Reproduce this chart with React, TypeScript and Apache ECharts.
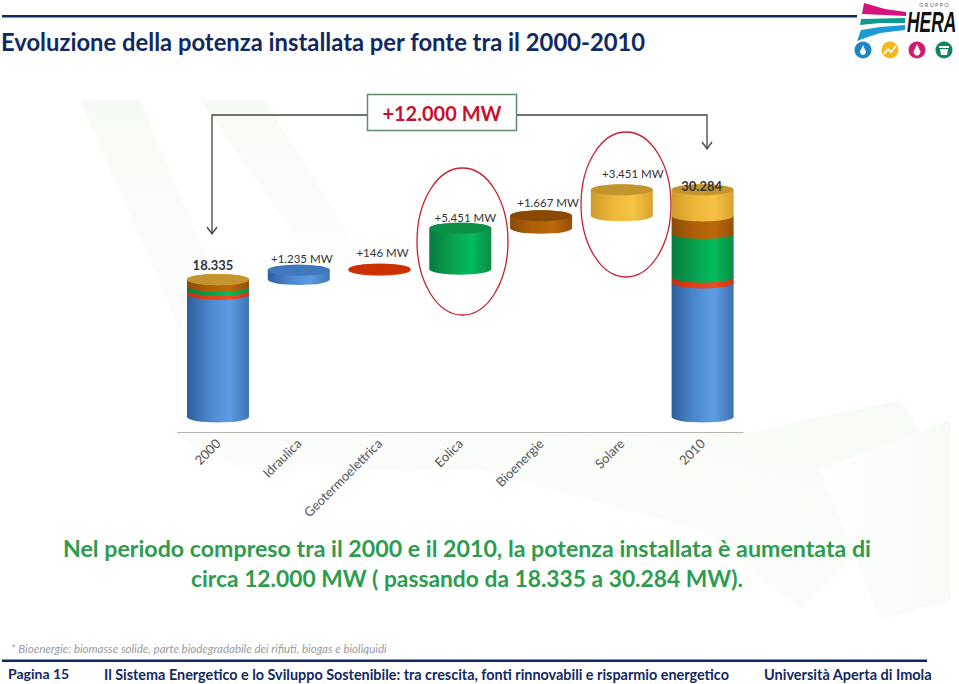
import React, { useEffect, useRef } from "react";
import * as echarts from "echarts";

const categories = ["2000", "Idraulica", "Geotermoelettrica", "Eolica", "Bioenergie", "Solare", "2010"];
const stack2000 = [16345, 530, 530, 910, 20];
const stack2010 = [17875, 773, 5814, 2351, 3471];
const stackColours = [0, 1, 2, 3, 4];
const stepBases = [18335, 19570, 19716, 25167, 26834];
const stepValues = [1235, 146, 5451, 1667, 3451];
const stepColours = [0, 1, 2, 3, 4];
const valueLabels = ["18.335", "+1.235 MW", "+146 MW", "+5.451 MW", "+1.667 MW", "+3.451 MW", "30.284"];
const labelTops = [18335, 19570, 19716, 25167, 26834, 30285, 30284];

const labelDx = [-5, 3, 3, 5, 7, 11, -1];
const labelDy = [-14.5, -12, -17, -11, -13, -16, -4];
const FONT = "Lato, Carlito, sans-serif";

type Shade = { e: string; m: string; l: string; r: string; top: string };
const shades: Shade[] = [
  { e: "#2f5e9c", m: "#4a86cc", l: "#5e9ce2", r: "#3f74b4", top: "#3f78bb" },
  { e: "#c22f10", m: "#e2401a", l: "#ee4a20", r: "#d03512", top: "#cc3000" },
  { e: "#0a7a3f", m: "#07a04f", l: "#05bb5e", r: "#0a8c48", top: "#0e8f47" },
  { e: "#8a4a06", m: "#ae6008", l: "#bb6a0c", r: "#974f06", top: "#8a4804" },
  { e: "#cf9a2a", m: "#eeb638", l: "#f6c344", r: "#d9a22e", top: "#c4952f" },
];

function bodyGradient(s: Shade) {
  return new echarts.graphic.LinearGradient(0, 0, 1, 0, [
    { offset: 0, color: s.e },
    { offset: 0.35, color: s.m },
    { offset: 0.68, color: s.l },
    { offset: 1, color: s.r },
  ]);
}

const rows: number[][] = [];
function pushStack(cat: number, values: number[]) {
  let start = 0;
  values.forEach((v, i) => {
    rows.push([cat, start, start + v, stackColours[i], i === values.length - 1 ? 1 : 0]);
    start += v;
  });
}
pushStack(0, stack2000);
stepValues.forEach((v, i) => rows.push([i + 1, stepBases[i], stepBases[i] + v, stepColours[i], 1]));
pushStack(6, stack2010);

const RY = 5.5;

function renderCylinder(_p: any, api: any) {
  const cat = api.value(0);
  const a = api.coord([cat, api.value(1)]);
  const b = api.coord([cat, api.value(2)]);
  const rx = (api.size([1, 0])[0] * 0.7675) / 2;
  const s = shades[api.value(3)];
  const xl = a[0] - rx;
  const xr = a[0] + rx;
  const children: any[] = [
    {
      type: "path",
      shape: {
        pathData: `M${xl} ${b[1]}L${xl} ${a[1]}A${rx} ${RY} 0 0 0 ${xr} ${a[1]}L${xr} ${b[1]}A${rx} ${RY} 0 0 0 ${xl} ${b[1]}Z`,
      },
      style: { fill: bodyGradient(s) },
    },
  ];
  if (api.value(4)) {
    children.push({
      type: "ellipse",
      shape: { cx: a[0], cy: b[1], rx, ry: RY },
      style: { fill: s.top },
    });
  }
  return { type: "group", children };
}

function renderValueLabel(p: any, api: any) {
  const c = api.coord([api.value(0), api.value(1)]);
  const i = p.dataIndex;
  const strong = i === 0 || i === 6;
  return {
    type: "text",
    x: c[0] + labelDx[i],
    y: c[1] + labelDy[i],
    style: {
      text: valueLabels[i],
      font: strong ? `bold 13px ${FONT}` : `11.5px ${FONT}`,
      fill: "#333",
      align: "center",
      verticalAlign: "middle",
    },
  };
}

const NAVY = "#12295f";
const txt = (text: string, x: number, y: number, font: string, fill: string, align = "left", extra: any = {}) => ({
  type: "text",
  z: 5,
  style: { text, x, y, font, fill, align, verticalAlign: "middle" },
  ...extra,
});
const poly = (points: number[][], fill: any, z = 0) => ({
  type: "polygon",
  z,
  shape: { points },
  style: { fill },
});
const fade = (x: number, y: number, x2: number, y2: number) =>
  new echarts.graphic.LinearGradient(x, y, x2, y2, [
    { offset: 0, color: "#f6faf4" },
    { offset: 1, color: "#ffffff" },
  ]);

const graphics: any[] = [
  poly([[80, 100], [140, 100], [270, 410], [215, 410]], fade(0, 0, 0, 1)),
  poly([[200, 100], [265, 100], [390, 300], [340, 300]], fade(0, 0, 0, 1)),
  poly([[170, 432], [750, 432], [900, 400], [945, 470], [800, 610], [700, 530], [480, 470], [300, 470], [240, 470]], fade(1, 0, 0, 1)),
  poly([[820, 470], [950, 420], [950, 600], [880, 620]], fade(1, 0, 0, 0)),

  { type: "rect", z: 5, shape: { x: 2, y: 15, width: 855, height: 2.5 }, style: { fill: NAVY } },
  txt("Evoluzione della potenza installata per fonte tra il 2000-2010", 1, 42, `bold 23.8px ${FONT}`, NAVY),

  { type: "rect", z: 5, shape: { x: 367.5, y: 94.5, width: 149, height: 36 }, style: { fill: "#fff", stroke: "#5f8a70", lineWidth: 1.5 } },
  txt("+12.000 MW", 442, 113, `bold 20px ${FONT}`, "#c8102e", "center"),
  { type: "polyline", z: 5, shape: { points: [[367, 115], [212, 115], [212, 234]] }, style: { fill: "none", stroke: "#444", lineWidth: 1.3 } },
  { type: "polyline", z: 5, shape: { points: [[207, 227], [212, 234], [217, 227]] }, style: { fill: "none", stroke: "#444", lineWidth: 1.3 } },
  { type: "polyline", z: 5, shape: { points: [[517, 115], [707, 115], [707, 149]] }, style: { fill: "none", stroke: "#444", lineWidth: 1.3 } },
  { type: "polyline", z: 5, shape: { points: [[702, 142], [707, 149], [712, 142]] }, style: { fill: "none", stroke: "#444", lineWidth: 1.3 } },

  { type: "ellipse", z: 6, shape: { cx: 462.5, cy: 241.5, rx: 45.5, ry: 73.5 }, style: { fill: "none", stroke: "#c8202f", lineWidth: 1.3 } },
  { type: "ellipse", z: 6, shape: { cx: 626, cy: 204.5, rx: 45, ry: 72.5 }, style: { fill: "none", stroke: "#c8202f", lineWidth: 1.3 } },

  txt("Nel periodo compreso tra il 2000 e il 2010, la potenza installata è aumentata di", 467, 548, `bold 23.2px ${FONT}`, "#2e9c4f", "center"),
  txt("circa 12.000 MW ( passando da 18.335 a 30.284 MW).", 467, 578, `bold 22.8px ${FONT}`, "#2e9c4f", "center"),

  txt("* Bioenergie: biomasse solide, parte biodegradabile dei rifiuti, biogas e bioliquidi", 11, 648, `italic 11.5px ${FONT}`, "#9a9a9a"),
  { type: "rect", z: 5, shape: { x: 2, y: 659.5, width: 925, height: 2.5 }, style: { fill: NAVY } },
  txt("Pagina 15", 8, 673, `bold 14px ${FONT}`, NAVY),
  txt("Il Sistema Energetico e lo Sviluppo Sostenibile: tra crescita, fonti rinnovabili e risparmio energetico", 104, 674, `bold 14.4px ${FONT}`, NAVY),
  txt("Università Aperta di Imola", 764, 674, `bold 14.5px ${FONT}`, NAVY),

  // logo
  poly([[864, 3], [885, 9], [906, 12], [906, 16], [884, 15], [862, 14]], "#d6127e", 5),
  poly([[861, 19], [905, 18], [905, 23], [880, 23], [860, 25]], "#0c9a8d", 5),
  poly([[861, 30], [880, 27], [905, 25], [905, 30], [880, 33], [865, 38], [857, 41]], "#1c9ad6", 5),
  txt("G R U P P O", 934, 4.5, `5.5px ${FONT}`, "#666", "center"),
  {
    type: "text",
    z: 5,
    x: 907,
    y: 22,
    scaleX: 0.6,
    style: { text: "HERA", x: 0, y: 0, font: "italic bold 29px 'Liberation Sans'", fill: "#111", align: "left", verticalAlign: "middle" },
  },
  { type: "circle", z: 5, shape: { cx: 863, cy: 50, r: 8.5 }, style: { fill: "#1c86c8" } },
  { type: "circle", z: 6, shape: { cx: 863, cy: 52, r: 3 }, style: { fill: "#fff" } },
  poly([[863, 45], [860.5, 51], [865.5, 51]], "#fff", 6),
  { type: "circle", z: 5, shape: { cx: 890, cy: 50, r: 8.5 }, style: { fill: "#f5b81c" } },
  { type: "polyline", z: 6, shape: { points: [[884, 54], [888, 49], [891, 52], [896, 46]] }, style: { fill: "none", stroke: "#fff", lineWidth: 1.8 } },
  { type: "circle", z: 5, shape: { cx: 917, cy: 50, r: 8.5 }, style: { fill: "#cf1a6e" } },
  { type: "circle", z: 6, shape: { cx: 917, cy: 52, r: 3.5 }, style: { fill: "#fff" } },
  poly([[917, 44], [914, 51], [920, 51]], "#fff", 6),
  { type: "circle", z: 5, shape: { cx: 944, cy: 50, r: 8.5 }, style: { fill: "#12835f" } },
  { type: "rect", z: 6, shape: { x: 939, y: 46, width: 10, height: 2 }, style: { fill: "#fff" } },
  poly([[940, 49], [948, 49], [947, 55], [941, 55]], "#fff", 6),
];

export default function App() {
  const ref = useRef<HTMLDivElement>(null);
  useEffect(() => {
    const chart = echarts.init(ref.current!, undefined, { renderer: "svg" });
    chart.setOption({
      animation: false,
      backgroundColor: "#fff",
      grid: { left: 177.6, width: 565.4, top: 154.5, height: 277.5 },
      xAxis: {
        type: "category",
        data: categories,
        position: "bottom",
        axisLine: { onZero: false, lineStyle: { color: "#b5b5b5", width: 1 } },
        axisTick: { show: false },
        axisLabel: { rotate: 45, interval: 0, margin: 9, fontSize: 13, fontFamily: FONT, color: "#555" },
      },
      yAxis: { type: "value", min: -2000, max: 35000, show: false, splitLine: { show: false } },
      graphic: { elements: graphics },
      series: [
        {
          type: "custom",
          coordinateSystem: "cartesian2d",
          renderItem: renderCylinder,
          encode: { x: 0, y: [1, 2] },
          data: rows,
          z: 3,
          clip: false,
          silent: true,
        },
        {
          type: "custom",
          coordinateSystem: "cartesian2d",
          renderItem: renderValueLabel,
          encode: { x: 0, y: 1 },
          data: labelTops.map((v, i) => [i, v]),
          z: 4,
          clip: false,
          silent: true,
        },
      ],
    });
    return () => chart.dispose();
  }, []);
  return <div ref={ref} style={{ position: "fixed", left: 0, top: 0, width: 959, height: 684 }} />;
}
